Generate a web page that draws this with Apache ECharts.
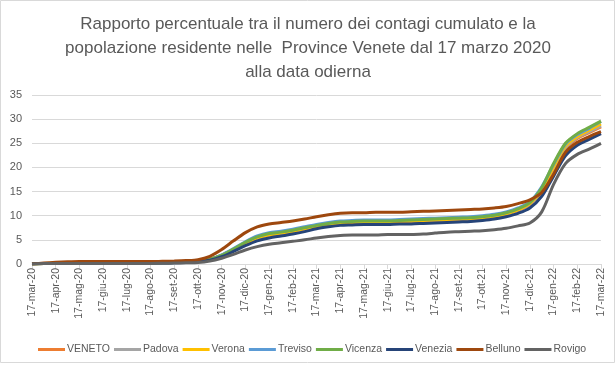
<!DOCTYPE html>
<html>
<head>
<meta charset="utf-8">
<script src="https://cdn.jsdelivr.net/npm/echarts@6/dist/echarts.min.js"></script>
<style>
html,body{margin:0;padding:0;background:#fff;}
#c{width:616px;height:365px;}
</style>
</head>
<body>
<div id="c"></div>
<script>
// Categories: semi-monthly points; the 17th of each month is labelled
const categories = [
 '17-mar-20','1-apr-20','17-apr-20','1-mag-20','17-mag-20','1-giu-20','17-giu-20','1-lug-20','17-lug-20','1-ago-20','17-ago-20','1-set-20','17-set-20','1-ott-20','17-ott-20','1-nov-20','17-nov-20','1-dic-20','17-dic-20','1-gen-21','17-gen-21','1-feb-21','17-feb-21','1-mar-21',
 '17-mar-21','1-apr-21','17-apr-21','1-mag-21','17-mag-21','1-giu-21','17-giu-21','1-lug-21','17-lug-21','1-ago-21','17-ago-21','1-set-21','17-set-21','1-ott-21','17-ott-21','1-nov-21','17-nov-21','1-dic-21','17-dic-21','1-gen-22','17-gen-22','1-feb-22','17-feb-22','1-mar-22','17-mar-22'
];

const veneto  = [0,0.1,0.15,0.2,0.25,0.25,0.25,0.25,0.25,0.25,0.25,0.3,0.3,0.4,0.6,1.0,1.8,3.0,4.3,5.4,6.0,6.4,6.8,7.3,7.8,8.2,8.5,8.6,8.7,8.7,8.7,8.8,8.8,8.9,9.0,9.1,9.2,9.3,9.5,9.8,10.3,11.1,12.3,15.0,19.6,23.8,26.0,27.2,28.4];
const padova  = [0,0.1,0.15,0.2,0.25,0.25,0.25,0.25,0.25,0.25,0.25,0.3,0.3,0.4,0.6,1.0,1.8,3.0,4.4,5.5,6.1,6.5,6.9,7.4,7.9,8.3,8.6,8.7,8.8,8.8,8.8,8.9,8.9,9.0,9.1,9.2,9.3,9.4,9.6,9.9,10.4,11.2,12.4,15.2,19.9,24.1,26.2,27.4,28.6];
const verona  = [0,0.1,0.2,0.25,0.3,0.3,0.3,0.3,0.3,0.3,0.3,0.3,0.35,0.45,0.6,1.0,1.8,3.0,4.3,5.4,6.0,6.4,6.8,7.3,7.8,8.2,8.5,8.6,8.7,8.7,8.7,8.8,8.9,9.0,9.1,9.2,9.3,9.4,9.6,9.9,10.4,11.2,12.5,15.4,20.1,24.4,26.4,27.7,29.0];
const treviso = [0,0.1,0.15,0.2,0.2,0.2,0.2,0.2,0.2,0.2,0.2,0.25,0.3,0.4,0.6,1.0,1.9,3.2,4.6,5.8,6.5,6.8,7.2,7.7,8.2,8.6,8.9,9.0,9.1,9.1,9.1,9.2,9.3,9.4,9.5,9.6,9.7,9.8,10.0,10.3,10.8,11.6,12.9,16.0,20.6,24.8,26.8,28.1,29.5];
const vicenza = [0,0.1,0.15,0.2,0.2,0.2,0.2,0.2,0.2,0.2,0.2,0.25,0.3,0.4,0.6,1.0,1.8,3.1,4.5,5.6,6.3,6.6,7.0,7.5,8.0,8.4,8.7,8.8,8.9,8.9,8.9,9.0,9.1,9.2,9.3,9.4,9.5,9.6,9.8,10.1,10.6,11.4,12.7,15.8,20.8,25.0,27.0,28.3,29.6];
const venezia = [0,0.1,0.1,0.15,0.2,0.2,0.2,0.2,0.2,0.2,0.2,0.2,0.25,0.3,0.5,0.8,1.5,2.6,3.8,4.8,5.4,5.8,6.2,6.7,7.3,7.7,8.0,8.1,8.2,8.2,8.2,8.3,8.3,8.4,8.5,8.6,8.7,8.8,9.0,9.3,9.8,10.5,11.6,14.0,18.2,22.4,24.6,25.8,27.0];
const belluno = [0,0.2,0.35,0.45,0.5,0.5,0.5,0.5,0.5,0.5,0.5,0.55,0.6,0.7,0.9,1.6,3.0,4.8,6.5,7.7,8.3,8.6,8.9,9.3,9.8,10.2,10.5,10.6,10.6,10.7,10.7,10.7,10.8,10.9,11.0,11.1,11.2,11.3,11.4,11.6,11.9,12.5,13.3,14.8,18.6,23.1,25.2,26.4,27.4];
const rovigo  = [0,0.1,0.1,0.1,0.1,0.1,0.1,0.1,0.1,0.1,0.1,0.15,0.2,0.25,0.3,0.6,1.2,2.0,2.9,3.6,4.1,4.4,4.7,5.0,5.4,5.7,5.9,6.0,6.0,6.0,6.1,6.1,6.1,6.2,6.4,6.6,6.7,6.8,6.9,7.1,7.4,7.9,8.5,10.8,16.5,20.8,22.7,23.8,25.0];

const seriesNames = ['VENETO','Padova','Verona','Treviso','Vicenza','Venezia','Belluno','Rovigo'];
const seriesData = [veneto,padova,verona,treviso,vicenza,venezia,belluno,rovigo];
const colors = ['#ED7D31','#A5A5A5','#FFC000','#5B9BD5','#70AD47','#264478','#9E480E','#636363'];
const yTicks = [0,5,10,15,20,25,30,35];

const FONT = '"Liberation Sans",Arial,sans-serif';
const chart = echarts.init(document.getElementById('c'));
chart.setOption({
  animation:false,
  color: colors,
  title:{
    text:'Rapporto percentuale tra il numero dei contagi cumulato e la\npopolazione residente nelle  Province Venete dal 17 marzo 2020\nalla data odierna',
    left:'center', top:7,
    textStyle:{fontFamily:FONT,fontSize:17,fontWeight:'normal',color:'#595959',lineHeight:24}
  },
  graphic:[{type:'rect',shape:{x:0.5,y:0.5,width:614,height:362},style:{fill:'none',stroke:'#D9D9D9',lineWidth:1},silent:true}],
  legend:{
    data:seriesNames, left:33, top:339,
    icon:'rect', itemWidth:27, itemHeight:3, itemGap:4,
    textStyle:{fontFamily:FONT,fontSize:10.5,color:'#595959',padding:[0,0,0,-3]}
  },
  grid:{left:32,right:15,top:95,bottom:101,containLabel:false},
  xAxis:{
    type:'category', data:categories, boundaryGap:false,
    axisLine:{lineStyle:{color:'#D9D9D9'}},
    axisTick:{show:true,interval:1,length:5,lineStyle:{color:'#D9D9D9'}},
    axisLabel:{interval:1,rotate:90,fontFamily:FONT,fontSize:10.5,color:'#595959',margin:4},
    splitLine:{show:false}
  },
  yAxis:{
    type:'value', min:yTicks[0], max:yTicks[yTicks.length-1], interval:5,
    axisLine:{show:false}, axisTick:{show:false},
    axisLabel:{fontFamily:FONT,fontSize:11,color:'#595959',margin:10},
    splitLine:{lineStyle:{color:'#D9D9D9'}}
  },
  series: seriesNames.map((n,i)=>({
    name:n, type:'line', data:seriesData[i], showSymbol:false, symbol:'none',
    smooth:0.3,
    lineStyle:{width:3,color:colors[i]}, itemStyle:{color:colors[i]}
  }))
});
</script>
</body>
</html>
